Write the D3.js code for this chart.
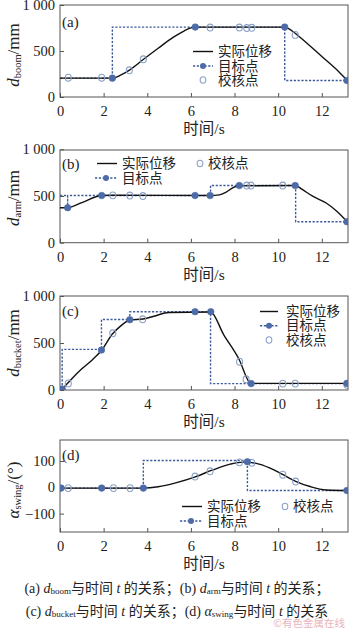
<!DOCTYPE html>
<html><head><meta charset="utf-8">
<script src="https://cdn.jsdelivr.net/npm/d3@7"></script>
<style>
html,body{margin:0;padding:0;background:#fff;}
svg{display:block;}
</style></head>
<body>
<svg id="chart" width="350" height="628"></svg>
<script>
// ---------- data ----------
const timeTicks = [0, 2, 4, 6, 8, 10, 12];
const timeDomain = [0, 13.2];

// (a) boom
const aActualT = [0, 2.4, 2.8, 3.2, 3.8, 4.5, 5.2, 5.7, 6.0, 6.2, 10.3, 10.6, 11.0, 12.0, 12.8, 13.15];
const aActualV = [205, 205, 240, 295, 405, 530, 650, 720, 752, 760, 760, 725, 650, 440, 270, 185];
const aStepT = [0, 2.4, 2.4, 10.3, 10.3, 13.15];
const aStepV = [205, 205, 760, 760, 180, 180];
const aTargetT = [2.4, 6.2, 10.3, 13.15];
const aTargetV = [205, 760, 760, 180];
const aCheckT = [0.38, 1.91, 3.18, 3.82, 6.88, 8.22, 8.56, 8.79, 10.78];
const aCheckV = [210, 210, 290, 410, 755, 755, 750, 752, 675];
const aYTicks = [0, 500, 1000];
const aYLabels = ["0", "500", "1 000"];

// (b) arm
const bActualT = [0, 0.35, 1.0, 1.9, 2.4, 6.9, 7.3, 7.6, 7.9, 8.2, 10.8, 11.1, 11.6, 12.2, 12.7, 13.15];
const bActualV = [375, 375, 430, 505, 508, 505, 512, 540, 585, 610, 612, 570, 495, 425, 335, 228];
const bStepT = [0, 0.35, 0.35, 0.35, 6.9, 6.9, 10.8, 10.8, 13.15];
const bStepV = [505, 505, 375, 505, 505, 612, 612, 225, 225];
const bTargetT = [0.35, 1.91, 6.19, 6.88, 8.22, 10.78, 13.15];
const bTargetV = [375, 505, 505, 505, 612, 612, 225];
const bCheckT = [2.42, 3.2, 3.8, 8.56, 8.75, 10.21];
const bCheckV = [507, 505, 500, 612, 612, 612];
const bYTicks = [0, 500, 1000];
const bYLabels = ["0", "500", "1 000"];

// (c) bucket
const cActualT = [0.1, 0.5, 1.0, 1.5, 1.9, 2.4, 2.8, 3.2, 3.8, 4.3, 5.0, 6.9, 7.5, 8.2, 8.75, 13.15];
const cActualV = [10, 110, 225, 325, 420, 595, 685, 745, 755, 785, 825, 830, 590, 330, 70, 70];
const cStepT = [0.1, 0.1, 1.9, 1.9, 3.2, 3.2, 6.9, 6.9, 13.15];
const cStepV = [10, 432, 432, 750, 750, 833, 833, 68, 68];
const cTargetT = [0.1, 1.9, 3.2, 6.19, 6.91, 8.76, 13.15];
const cTargetV = [10, 425, 748, 833, 833, 68, 70];
const cCheckT = [0.1, 0.38, 2.42, 3.79, 8.23, 8.53, 10.21, 10.78, 13.15];
const cCheckV = [0, 70, 603, 752, 301, 114, 68, 68, 55];
const cYTicks = [0, 500, 1000];
const cYLabels = ["0", "500", "1 000"];

// (d) swing
const dActualT = [0, 3.8, 4.5, 5.3, 6.2, 7.0, 7.8, 8.4, 9.0, 9.6, 10.2, 10.8, 11.5, 12.2, 13.15];
const dActualV = [-3, -3, 2, 17, 40, 66, 88, 96, 91, 74, 49, 23, 2, -10, -12];
const dStepT = [0, 3.82, 3.82, 8.59, 8.59, 13.15];
const dStepV = [-3, -3, 102, 102, -12, -12];
const dTargetT = [0.05, 1.91, 3.82, 8.59, 13.15];
const dTargetV = [-3, -3, -3, 97, -12];
const dCheckT = [0.38, 2.45, 3.21, 6.19, 6.88, 8.22, 8.79, 10.21, 10.8];
const dCheckV = [-3, -3, -3, 41, 61, 95, 93, 48, 22];
const dYTicks = [-100, 0, 100];
const dYLabels = ["\u2212100", "0", "100"];

const legendActual = "实际位移";
const legendTarget = "目标点";
const legendCheck = "校核点";
const xTitle = "时间/s";

// ---------- drawing ----------
const svg = d3.select("#chart");
const SERIF = "'Liberation Serif','Times New Roman',serif";
const CJK = "'Liberation Serif','Noto Sans CJK SC',serif";
const BLUE = "#3d5b9b";
const DOT = "#4d6ba6";
const HOLLOW = "#8aa0c6";
const BOX = "#555";

const x = d3.scaleLinear().domain(timeDomain).range([60, 348]);

function zip(t, v) { return t.map((d, i) => [d, v[i]]); }

function drawPanel(p) {
  const y = d3.scaleLinear().domain(p.yDomain).range([p.bottom, p.top - p.topPad]);
  const g = svg.append("g");
  const clipId = "clip" + p.id;
  svg.append("clipPath").attr("id", clipId).append("rect")
    .attr("x", 60).attr("y", p.top).attr("width", 288).attr("height", p.bottom - p.top);

  g.append("rect").attr("x", 60).attr("y", p.top).attr("width", 288).attr("height", p.bottom - p.top)
    .attr("fill", "none").attr("stroke", BOX).attr("stroke-width", 1);

  const xAxis = d3.axisBottom(x).tickValues(timeTicks).tickSizeInner(-4).tickSizeOuter(0).tickPadding(8);
  const xa = g.append("g").attr("transform", `translate(0,${p.bottom})`).call(xAxis);
  xa.select(".domain").remove();
  xa.selectAll("line").attr("stroke", BOX);
  xa.selectAll("text").attr("font-family", SERIF).attr("font-size", 14.5).attr("fill", "#222")
    .attr("dy", "0.75em");

  const yAxis = d3.axisLeft(y).tickValues(p.yTicks).tickFormat((d, i) => p.yLabels[i])
    .tickSizeInner(-4).tickSizeOuter(0).tickPadding(5);
  const ya = g.append("g").attr("transform", `translate(60,0)`).call(yAxis);
  ya.select(".domain").remove();
  ya.selectAll("line").attr("stroke", BOX);
  ya.selectAll("text").attr("font-family", SERIF).attr("font-size", 14.5).attr("fill", "#222");

  g.append("text").attr("x", 204).attr("y", p.bottom + 31.5).attr("text-anchor", "middle")
    .attr("dominant-baseline", "central").attr("font-family", CJK).attr("font-size", 15.5)
    .attr("fill", "#222").text(xTitle);

  const yt = g.append("text").attr("transform", `translate(${p.yTitleX},${p.yTitleY}) rotate(-90)`)
    .attr("text-anchor", "middle").attr("dominant-baseline", "central")
    .attr("font-family", SERIF).attr("font-size", 17).attr("fill", "#222");
  yt.append("tspan").attr("font-style", "italic").text(p.ySym);
  yt.append("tspan").attr("font-size", 10.5).attr("dy", 4).text(p.ySub);
  yt.append("tspan").attr("dy", -4).text(p.yUnit);

  const pg = g.append("g").attr("clip-path", `url(#${clipId})`);
  pg.append("path").datum(zip(p.stepT, p.stepV))
    .attr("d", d3.line().x(d => x(d[0])).y(d => y(d[1])))
    .attr("fill", "none").attr("stroke", BLUE).attr("stroke-width", 1.4).attr("stroke-dasharray", "2.2,1.6");
  pg.append("path").datum(zip(p.actT, p.actV))
    .attr("d", d3.line().curve(d3.curveMonotoneX).x(d => x(d[0])).y(d => y(d[1])))
    .attr("fill", "none").attr("stroke", "#111").attr("stroke-width", 1.4);
  pg.selectAll(".chk").data(zip(p.chkT, p.chkV)).join("ellipse")
    .attr("cx", d => x(d[0])).attr("cy", d => y(d[1])).attr("rx", 3).attr("ry", 3.4)
    .attr("fill", "none").attr("stroke", HOLLOW).attr("stroke-width", 1.1);
  pg.selectAll(".tgt").data(zip(p.tgtT, p.tgtV)).join("circle")
    .attr("cx", d => x(d[0])).attr("cy", d => y(d[1])).attr("r", 3.3)
    .attr("fill", DOT).attr("stroke", DOT).attr("stroke-width", 0.6);

  g.append("text").attr("x", 62).attr("y", p.labelY).attr("dominant-baseline", "central")
    .attr("font-family", SERIF).attr("font-size", 15).attr("fill", "#222").text(p.label);

  const L = g.append("g");
  function lgLine(x1, x2, yy) {
    L.append("line").attr("x1", x1).attr("x2", x2).attr("y1", yy).attr("y2", yy)
      .attr("stroke", "#111").attr("stroke-width", 1.4);
  }
  function lgTarget(x1, x2, yy) {
    L.append("line").attr("x1", x1).attr("x2", x2).attr("y1", yy).attr("y2", yy)
      .attr("stroke", BLUE).attr("stroke-width", 1.4).attr("stroke-dasharray", "2.2,1.6");
    L.append("circle").attr("cx", (x1 + x2) / 2).attr("cy", yy).attr("r", 3).attr("fill", DOT);
  }
  function lgCheck(cx, yy) {
    L.append("ellipse").attr("cx", cx).attr("cy", yy).attr("rx", 2.8).attr("ry", 3.2)
      .attr("fill", "none").attr("stroke", HOLLOW).attr("stroke-width", 1.1);
  }
  function lgText(tx, yy, s) {
    L.append("text").attr("x", tx).attr("y", yy).attr("dominant-baseline", "central")
      .attr("font-family", CJK).attr("font-size", 13.5).attr("fill", "#222").text(s);
  }
  p.legend(lgLine, lgTarget, lgCheck, lgText);
}

drawPanel({
  id: "a", top: 5, bottom: 97, topPad: 0, yDomain: [0, 1000], yTicks: aYTicks, yLabels: aYLabels,
  actT: aActualT, actV: aActualV, stepT: aStepT, stepV: aStepV, tgtT: aTargetT, tgtV: aTargetV,
  chkT: aCheckT, chkV: aCheckV, label: "(a)", labelY: 21.5,
  ySym: "d", ySub: "boom", yUnit: "/mm", yTitleX: 13, yTitleY: 55,
  legend: (ln, tg, ck, tx) => {
    ln(193, 213, 51.5); tx(218, 51.5, legendActual);
    tg(193, 213, 66); tx(218, 66, legendTarget);
    ck(203, 80); tx(218, 80, legendCheck);
  }
});

drawPanel({
  id: "b", top: 150, bottom: 242.7, topPad: 0.7, yDomain: [0, 1000], yTicks: bYTicks, yLabels: bYLabels,
  actT: bActualT, actV: bActualV, stepT: bStepT, stepV: bStepV, tgtT: bTargetT, tgtV: bTargetV,
  chkT: bCheckT, chkV: bCheckV, label: "(b)", labelY: 164,
  ySym: "d", ySub: "arm", yUnit: "/mm", yTitleX: 13, yTitleY: 198,
  legend: (ln, tg, ck, tx) => {
    ln(97, 117, 163.5); tx(122, 163.5, legendActual);
    ck(200, 163.5); tx(208, 163.5, legendCheck);
    tg(95, 117, 178); tx(122, 178, legendTarget);
  }
});

drawPanel({
  id: "c", top: 296, bottom: 390, topPad: 0, yDomain: [0, 1000], yTicks: cYTicks, yLabels: cYLabels,
  actT: cActualT, actV: cActualV, stepT: cStepT, stepV: cStepV, tgtT: cTargetT, tgtV: cTargetV,
  chkT: cCheckT, chkV: cCheckV, label: "(c)", labelY: 311,
  ySym: "d", ySub: "bucket", yUnit: "/mm", yTitleX: 13, yTitleY: 343,
  legend: (ln, tg, ck, tx) => {
    ln(260, 278, 311.5); tx(286, 311.5, legendActual);
    tg(260, 278, 325.7); tx(286, 325.7, legendTarget);
    ck(269, 340); tx(286, 340, legendCheck);
  }
});

drawPanel({
  id: "d", top: 440, bottom: 532, topPad: 0, yDomain: [-170, 180], yTicks: dYTicks, yLabels: dYLabels,
  actT: dActualT, actV: dActualV, stepT: dStepT, stepV: dStepV, tgtT: dTargetT, tgtV: dTargetV,
  chkT: dCheckT, chkV: dCheckV, label: "(d)", labelY: 455,
  ySym: "α", ySub: "swing", yUnit: "/(°)", yTitleX: 13, yTitleY: 490,
  legend: (ln, tg, ck, tx) => {
    ln(182, 202, 506.5); tx(207, 506.5, legendActual);
    ck(285, 506.5); tx(293, 506.5, legendCheck);
    tg(180, 202, 521); tx(207, 521, legendTarget);
  }
});

// ---------- caption ----------
function caption(yy, parts) {
  const t = svg.append("text").attr("x", 177).attr("y", yy).attr("text-anchor", "middle")
    .attr("dominant-baseline", "central").attr("font-family", CJK).attr("font-size", 14).attr("fill", "#222");
  parts.forEach(pt => {
    const s = t.append("tspan").text(pt.s);
    if (pt.i) s.attr("font-style", "italic");
    if (pt.sub) s.attr("font-size", 9).attr("dy", 3);
    if (pt.up) s.attr("dy", -3);
  });
}
caption(588, [
  { s: "(a) " }, { s: "d", i: 1 }, { s: "boom", sub: 1 }, { s: "与时间 ", up: 1 }, { s: "t", i: 1 }, { s: " 的关系；(b) " },
  { s: "d", i: 1 }, { s: "arm", sub: 1 }, { s: "与时间 ", up: 1 }, { s: "t", i: 1 }, { s: " 的关系；" }
]);
caption(611, [
  { s: "(c) " }, { s: "d", i: 1 }, { s: "bucket", sub: 1 }, { s: "与时间 ", up: 1 }, { s: "t", i: 1 }, { s: " 的关系；(d) " },
  { s: "α", i: 1 }, { s: "swing", sub: 1 }, { s: "与时间 ", up: 1 }, { s: "t", i: 1 }, { s: " 的关系" }
]);

// watermark
svg.append("text").attr("x", 345).attr("y", 622.5).attr("text-anchor", "end").attr("dominant-baseline", "central")
  .attr("font-family", "'Noto Sans CJK SC',sans-serif").attr("font-size", 10.5).attr("fill", "#e6a3ae")
  .attr("opacity", 0.8).text("©有色金属在线");
</script>
</body></html>
